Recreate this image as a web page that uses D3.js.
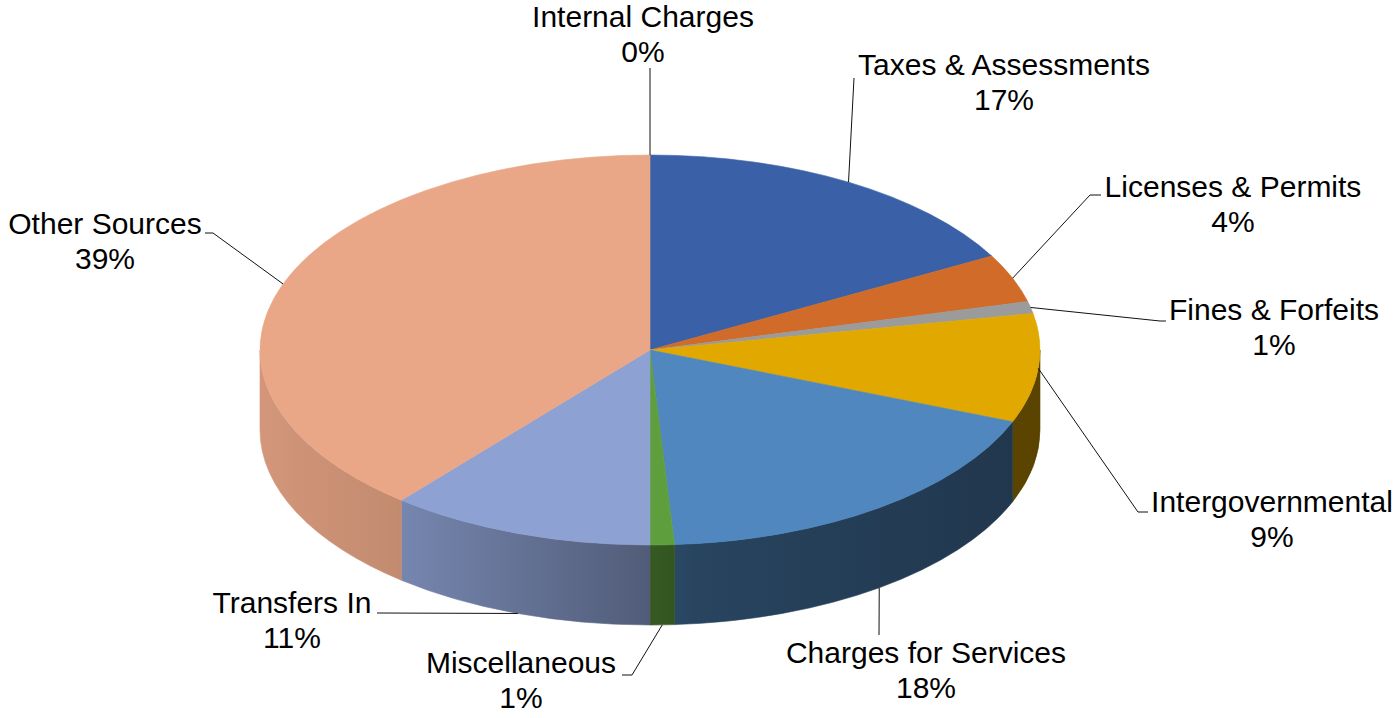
<!DOCTYPE html>
<html>
<head>
<meta charset="utf-8">
<script src="https://cdn.jsdelivr.net/npm/d3@7"></script>
<style>
  html, body { margin: 0; padding: 0; background: #ffffff; }
  svg { display: block; }
</style>
</head>
<body>
<svg id="chart" width="1395" height="718"></svg>
<script>
// Revenue sources, clockwise from 12 o'clock
const categories = [
  "Internal Charges", "Taxes & Assessments", "Licenses & Permits",
  "Fines & Forfeits", "Intergovernmental", "Charges for Services",
  "Miscellaneous", "Transfers In", "Other Sources"
];
const shares = [0, 17, 4, 1, 9, 18, 1, 11, 39];
const sliceColors = [
  "#8c8c8c", "#3a61a8", "#d06b29", "#9b9b9b", "#e1a800",
  "#4f87be", "#5f9e3c", "#8ea1d3", "#eaa787"
];

// Label placement: text centre / first baseline, plus the leader's bend points
const labelLayout = [
  { x: 643,  y: 27,  bends: [[650, 68]] },
  { x: 1004, y: 75,  bends: [[854, 78]] },
  { x: 1233, y: 197, bends: [[1090, 195], [1101, 195]] },
  { x: 1274, y: 320, bends: [[1160, 321], [1166, 321]] },
  { x: 1272, y: 512, bends: [[1138, 512], [1148, 512]] },
  { x: 926,  y: 663, bends: [[879, 635]] },
  { x: 521,  y: 673, bends: [[632, 675], [622, 675]] },
  { x: 292,  y: 613, bends: [[377, 613]] },
  { x: 105,  y: 234, bends: [[213, 233], [205, 233]] }
];

const cx = 650, cy = 350, rx = 390, ry = 195, depth = 80;
const fontSize = 30, lineGap = 35;

const svg = d3.select("#chart");
const defs = svg.append("defs");

const total = d3.sum(shares);
const fmtPct = d3.format(".0%");
const arcs = d3.pie().sort(null).value(d => d)(shares);

// point on the top (dy = 0) or bottom (dy = depth) rim of the tilted disc
const rim = (a, dy = 0) => [cx + rx * Math.sin(a), cy - ry * Math.cos(a) + dy];

// wall shading: lighter on the left, darker towards the right
const shadeStops = [
  [0.00, 0.90], [0.18, 0.83], [0.50, 0.57], [0.56, 0.50], [1.00, 0.40]
];
const shade = (base, f) => {
  const c = d3.rgb(base);
  return d3.rgb(c.r * f, c.g * f, c.b * f).formatHex();
};

sliceColors.forEach((col, i) => {
  const g = defs.append("linearGradient")
    .attr("id", "wall" + i)
    .attr("gradientUnits", "userSpaceOnUse")
    .attr("x1", cx - rx).attr("y1", 0)
    .attr("x2", cx + rx).attr("y2", 0);
  shadeStops.forEach(([o, f]) => {
    g.append("stop").attr("offset", o).attr("stop-color", shade(col, f));
  });
});

// front walls (only the half of the rim facing the viewer is visible)
const wallGroup = svg.append("g");
arcs.forEach((d, i) => {
  const a0 = Math.max(d.startAngle, Math.PI / 2);
  const a1 = Math.min(d.endAngle, 3 * Math.PI / 2);
  if (a1 <= a0) return;
  const p0 = rim(a0), p1 = rim(a1), q1 = rim(a1, depth), q0 = rim(a0, depth);
  const path = `M${p0}A${rx},${ry} 0 0 1 ${p1}L${q1}A${rx},${ry} 0 0 0 ${q0}Z`;
  wallGroup.append("path")
    .attr("d", path)
    .attr("fill", `url(#wall${i})`)
    .attr("stroke", `url(#wall${i})`)
    .attr("stroke-width", 0.6);
});

// top faces: circular arcs squashed into the ellipse
const arcGen = d3.arc().innerRadius(0).outerRadius(rx);
svg.append("g")
  .attr("transform", `translate(${cx},${cy}) scale(1,${ry / rx})`)
  .selectAll("path")
  .data(arcs.filter(d => d.endAngle > d.startAngle))
  .join("path")
  .attr("d", arcGen)
  .attr("fill", d => sliceColors[d.index])
  .attr("stroke", d => sliceColors[d.index])
  .attr("stroke-width", 0.6)
  .attr("vector-effect", "non-scaling-stroke");

// leader lines from the slice's mid angle to its label
const leaders = svg.append("g")
  .attr("fill", "none")
  .attr("stroke", "#111")
  .attr("stroke-width", 1);
arcs.forEach((d, i) => {
  const mid = (d.startAngle + d.endAngle) / 2;
  const onFront = Math.cos(mid) < -0.5;
  const start = rim(mid, onFront ? depth : 0);
  leaders.append("path")
    .attr("d", d3.line()([start, ...labelLayout[i].bends]));
});

// category and percentage labels
const labels = svg.append("g")
  .attr("font-family", "'Liberation Sans', Arial, Helvetica, sans-serif")
  .attr("font-size", fontSize)
  .attr("fill", "#000")
  .attr("text-anchor", "middle");
categories.forEach((name, i) => {
  const L = labelLayout[i];
  const t = labels.append("text").attr("x", L.x).attr("y", L.y);
  t.append("tspan").attr("x", L.x).attr("y", L.y).text(name);
  t.append("tspan").attr("x", L.x).attr("y", L.y + lineGap)
    .text(fmtPct(shares[i] / total));
});
</script>
</body>
</html>
